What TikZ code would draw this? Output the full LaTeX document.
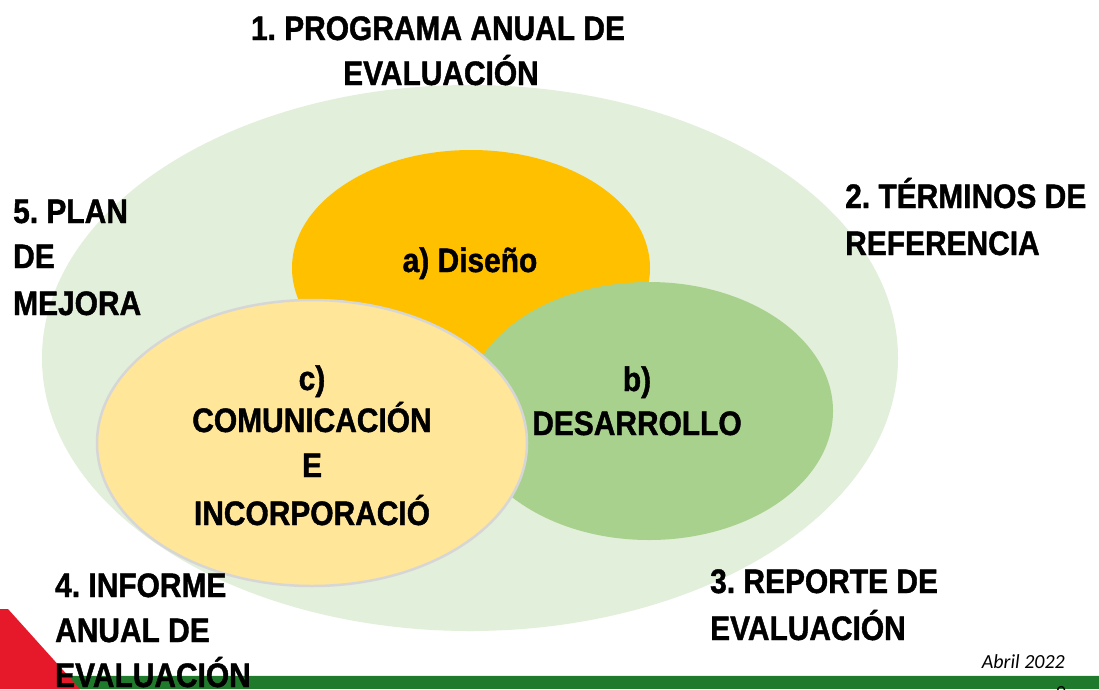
\documentclass[tikz,border=0pt]{standalone}
\usepackage{fontspec}
\setmainfont{Liberation Sans}
\newfontfamily\datefont{Carlito}
\newfontfamily\lblfont[FakeStretch=0.88,FakeBold=1.2]{Liberation Sans Bold}
\definecolor{bigfill}{HTML}{E2EFDA}
\definecolor{orangefill}{HTML}{FFC000}
\definecolor{greenfill}{HTML}{A9D18E}
\definecolor{yellowfill}{HTML}{FFE699}
\definecolor{rimgray}{HTML}{D6D6D6}
\definecolor{bargreen}{HTML}{1F7A2C}
\definecolor{barred}{HTML}{E6192B}
\tikzset{
  lbl/.style={inner sep=0pt, font=\lblfont\fontsize{34}{40}\selectfont\frenchspacing, text=black},
  lblw/.style={lbl, anchor=base west},
  lblc/.style={lbl, anchor=base},
}
\begin{document}
\begin{tikzpicture}[x=1pt,y=-1pt]
\useasboundingbox (0,0) rectangle (1099,689);
\fill[white] (0,0) rectangle (1099,689);
% circles
\fill[bigfill] (470,358) ellipse [x radius=428pt, y radius=273pt];
\fill[orangefill] (471,268) ellipse [x radius=179pt, y radius=118pt];
\fill[greenfill] (649,411) ellipse [x radius=184pt, y radius=129pt];
\filldraw[fill=yellowfill, draw=rimgray, line width=2.5pt] (312,443) ellipse [x radius=215pt, y radius=143pt];
% bottom band
\fill[bargreen] (0,676) rectangle (1099,689);
\draw[white!85!gray, line width=1pt] (0,675) -- (1099,675);
\fill[barred] (0,609) -- (8,609) -- (80,689) -- (0,689) -- cycle;
% outer labels
\node[lblc] (t1a) at (438,40) {1. PROGRAMA ANUAL DE};
\node[lblc] (t1b) at (441,85) {EVALUACIÓN};
\node[lblw] (t2a) at (845,208) {2. TÉRMINOS DE};
\node[lblw] (t2b) at (845,255) {REFERENCIA};
\node[lblw] (t3a) at (710,593) {3. REPORTE DE};
\node[lblw] (t3b) at (710,640) {EVALUACIÓN};
\node[lblw] (t4a) at (55,597) {4. INFORME};
\node[lblw] (t4b) at (55,642) {ANUAL DE};
\node[lblw] (t4c) at (55,687) {EVALUACIÓN};
\node[lblw] (t5a) at (13,223) {5. PLAN};
\node[lblw] (t5b) at (13,268) {DE};
\node[lblw] (t5c) at (13,315) {MEJORA};
% inner labels
\node[lblc] (ia) at (470,272) {a) Diseño};
\node[lblc] (ib1) at (637,391) {b)};
\node[lblc] (ib2) at (637,435) {DESARROLLO};
\node[lblc] (ic1) at (312,390) {c)};
\node[lblc] (ic2) at (312,432) {COMUNICACIÓN};
\node[lblc] (ic3) at (312,477) {E};
\node[lblc] (ic4) at (312,525) {INCORPORACIÓ};
% footer
\node[inner sep=0pt, anchor=base east, font=\datefont\itshape\fontsize{20}{24}\selectfont] (date) at (1065,668) {Abril 2022};
\node[inner sep=0pt, anchor=base, font=\datefont\fontsize{20}{24}\selectfont, text=black] (page) at (1061,699) {9};
\end{tikzpicture}
\end{document}
